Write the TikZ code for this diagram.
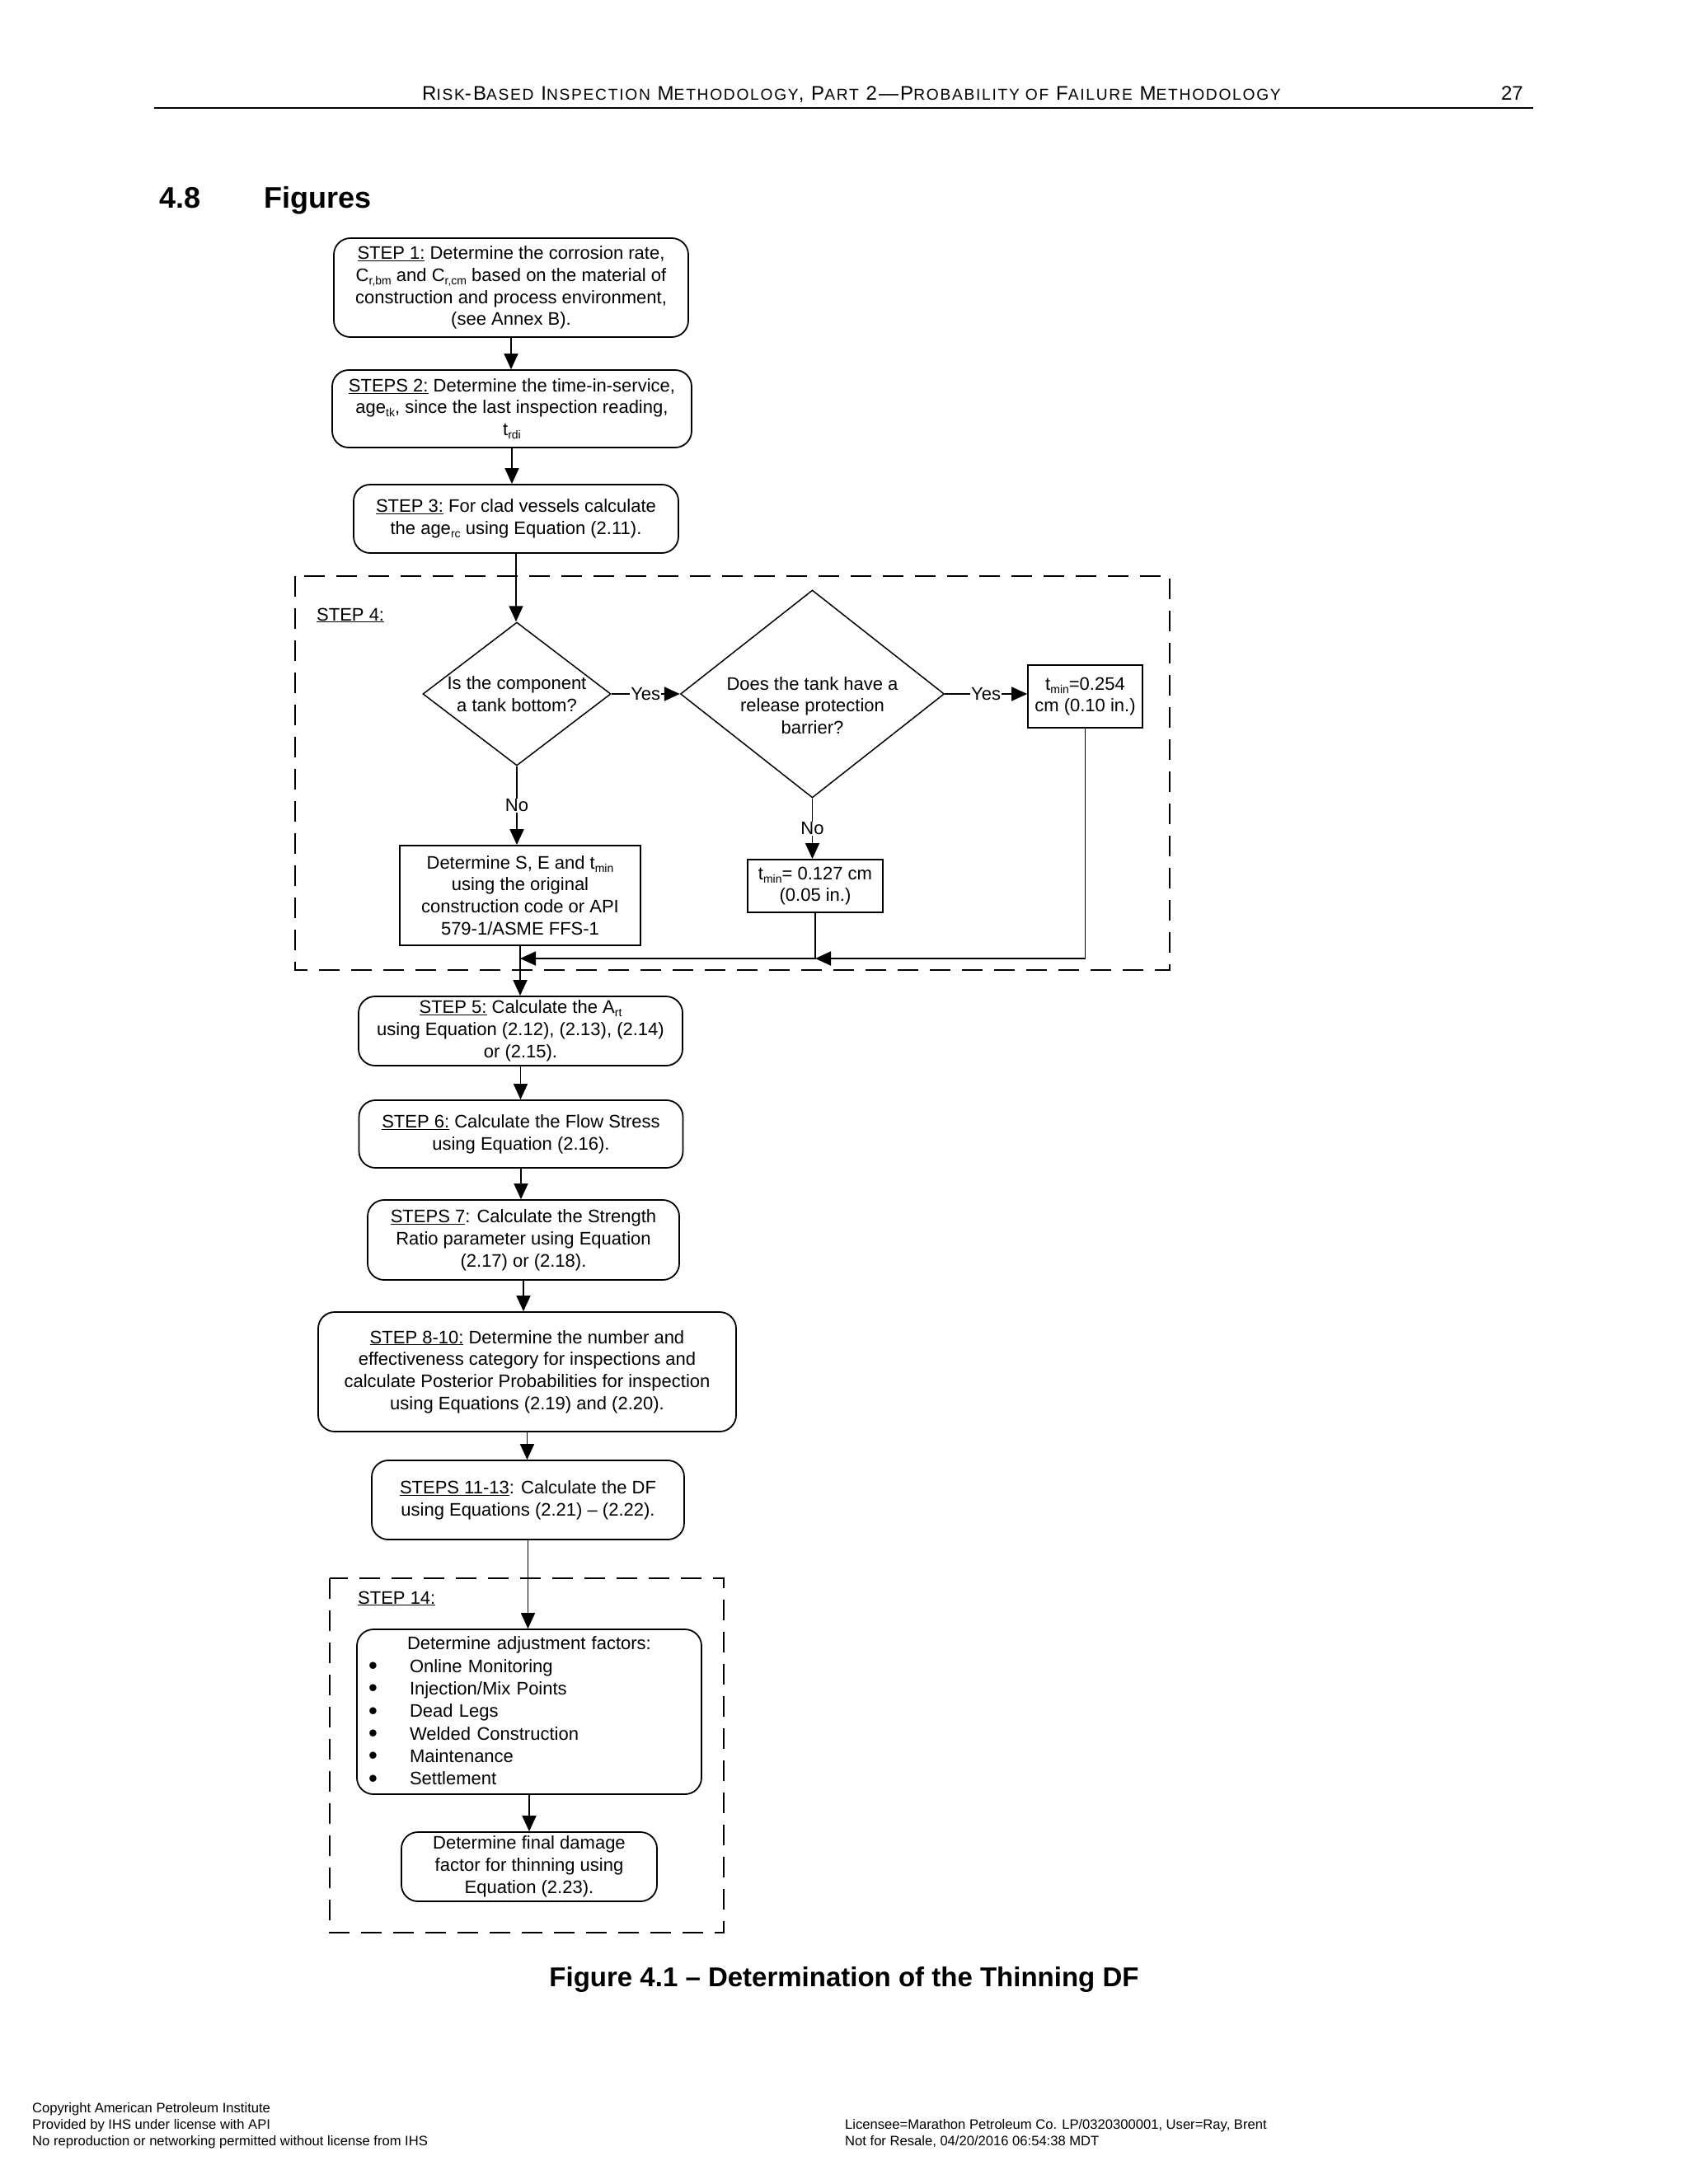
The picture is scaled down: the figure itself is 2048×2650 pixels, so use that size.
\documentclass[tikz,border=0pt]{standalone}
\usepackage{fontspec}
\setmainfont{Liberation Sans}
\newfontfamily\hdrfont[LetterSpace=9]{Liberation Sans}
\usetikzlibrary{shapes.geometric,arrows.meta}
\newcommand\sbs[1]{\raisebox{-4pt}{\fontsize{14}{14}\selectfont #1}}
\newcommand\HB[1]{{\fontsize{24}{24}\selectfont #1}}
\newcommand\HS[1]{{\fontsize{19.2}{24}\selectfont #1}}
\newcommand\blt{\makebox[50pt][l]{\raisebox{-2.5pt}{\fontsize{31}{27}\selectfont\textbullet}}}
\tikzset{
  base/.style={font=\fontsize{22}{26.8}\selectfont, align=center, inner sep=2pt},
  rbox/.style={base, draw, line width=1.8pt, rounded corners=20pt},
  sbox/.style={base, draw, line width=1.8pt},
  ln/.style={line width=1.8pt},
  arr/.style={ln, -{Triangle[length=19pt,width=17pt]}},
  dbox/.style={line width=1.8pt, dash pattern=on 25pt off 14pt},
  lab/.style={base, fill=white, inner sep=1pt},
  dia/.style={diamond, draw, line width=1.5pt, inner sep=0pt},
  txt/.style={anchor=base west, inner sep=0pt},
  foot/.style={txt, font=\fontsize{16.6}{16.6}\selectfont},
}
\begin{document}
\begin{tikzpicture}[x=1pt,y=-1pt]
\useasboundingbox (0,0) rectangle (2048,2650);
% header
\node[txt, font=\hdrfont\fontsize{24}{24}\selectfont] (hdr) at (512,121) {\HB{R}\HS{ISK}\HB{-B}\HS{ASED} \HB{I}\HS{NSPECTION} \HB{M}\HS{ETHODOLOGY}\HB{, P}\HS{ART} \HB{2—P}\HS{ROBABILITY OF} \HB{F}\HS{AILURE} \HB{M}\HS{ETHODOLOGY}};
\node[anchor=base east, inner sep=0pt, font=\fontsize{24}{24}\selectfont] (pg) at (1848,121) {27};
\draw[line width=1.8pt] (187,131) -- (1860,131);
\node[txt, font=\fontsize{36}{36}\selectfont\bfseries] (sec) at (193,252) {4.8};
\node[txt, font=\fontsize{36}{36}\selectfont\bfseries] (sectitle) at (320,252) {Figures};

% steps 1-3
\node[rbox, minimum width=430pt, minimum height=120pt] (s1) at (620,349)
  {\underline{STEP 1:} Determine the corrosion rate,\\ C\sbs{r,bm} and C\sbs{r,cm} based on the material of\\ construction and process environment,\\ (see Annex B).};
\node[rbox, minimum width=436pt, minimum height=94pt] (s2) at (621,496)
  {\underline{STEPS 2:} Determine the time-in-service,\\ age\sbs{tk}, since the last inspection reading,\\ t\sbs{rdi}};
\node[rbox, minimum width=394pt, minimum height=83pt] (s3) at (626,629.5)
  {\underline{STEP 3:} For clad vessels calculate\\ the age\sbs{rc} using Equation (2.11).};

% step 4
\draw[dbox] (358,699) rectangle (1419,1177);
\node[txt, font=\fontsize{22}{26.8}\selectfont] (st4) at (384,753) {\underline{STEP 4:}};
\node[dia, minimum width=228pt, minimum height=174pt,
  label={[base]center:{Is the component\\ a tank bottom?}}] (d1) at (627,842) {};
\node[dia, minimum width=320pt, minimum height=252pt,
  label={[base, yshift=-14pt]center:{Does the tank have a\\ release protection\\ barrier?}}] (d2) at (985.5,842) {};
\node[sbox, minimum width=139pt, minimum height=76pt] (bA) at (1316.5,845)
  {t\sbs{min}=0.254\\ cm (0.10 in.)};
\node[sbox, minimum width=164pt, minimum height=64pt] (bB) at (989,1075)
  {t\sbs{min}= 0.127 cm\\ (0.05 in.)};
\node[sbox, minimum width=292pt, minimum height=121pt] (bC) at (631,1086.5)
  {Determine S, E and t\sbs{min}\\ using the original\\ construction code or API\\ 579-1/ASME FFS-1};
\coordinate (jB) at (bB.south |- 0,1163);
\coordinate (jM) at (bC.south |- 0,1163);

% steps 5-13
\node[rbox, minimum width=393pt, minimum height=84pt] (s5) at (631.5,1251)
  {\underline{STEP 5:} Calculate the A\sbs{rt}\\ using Equation (2.12), (2.13), (2.14)\\ or (2.15).};
\node[rbox, minimum width=393pt, minimum height=82pt] (s6) at (632,1376)
  {\underline{STEP 6:} Calculate the Flow Stress\\ using Equation (2.16).};
\node[rbox, minimum width=378pt, minimum height=97pt] (s7) at (635,1504.5)
  {\underline{STEPS 7}: Calculate the Strength\\ Ratio parameter using Equation\\ (2.17) or (2.18).};
\node[rbox, minimum width=507pt, minimum height=145pt] (s8) at (639.5,1664.5)
  {\underline{STEP 8-10:} Determine the number and\\ effectiveness category for inspections and\\ calculate Posterior Probabilities for inspection\\ using Equations (2.19) and (2.20).};
\node[rbox, minimum width=379pt, minimum height=96pt] (s11) at (640.5,1820)
  {\underline{STEPS 11-13}: Calculate the DF\\ using Equations (2.21) – (2.22).};

% step 14
\draw[dbox] (400,1915) rectangle (878,2345);
\node[txt, font=\fontsize{22}{26.8}\selectfont] (st14) at (434,1946) {\underline{STEP 14:}};
\node[rbox, minimum width=418pt, minimum height=200pt, text width=390pt, align=left,
  font=\fontsize{22}{27.3}\selectfont] (adj) at (642,2077)
  {\hspace*{47pt}Determine adjustment factors:\\
   \blt Online Monitoring\\
   \blt Injection/Mix Points\\
   \blt Dead Legs\\
   \blt Welded Construction\\
   \blt Maintenance\\
   \blt Settlement};
\node[rbox, minimum width=310pt, minimum height=84pt] (fin) at (642,2265)
  {Determine final damage\\ factor for thinning using\\ Equation (2.23).};

% connectors
\draw[arr] (s1.south) -- (s1.south |- s2.north);
\draw[arr] (s2.south) -- (s2.south |- s3.north);
\draw[arr] (s3.south) -- (s3.south |- d1.north);
\draw[arr] (d1.east) -- node[lab] (yes1) {Yes} (d2.west);
\draw[arr] (d2.east) -- node[lab] (yes2) {Yes} (bA.west |- d2.east);
\draw[arr] (d1.south) -- node[lab] (no1) {No} (d1.south |- bC.north);
\draw[arr] (d2.south) -- node[lab] (no2) {No} (d2.south |- bB.north);
\draw[arr] (bA.south) |- (jB);
\draw[arr] (bB.south) |- (jM);
\draw[arr] (bC.south) -- (bC.south |- s5.north);
\draw[arr] (s5.south) -- (s5.south |- s6.north);
\draw[arr] (s6.south) -- (s6.south |- s7.north);
\draw[arr] (s7.south) -- (s7.south |- s8.north);
\draw[arr] (s8.south) -- (s8.south |- s11.north);
\draw[arr] (s11.south) -- (s11.south |- adj.north);
\draw[arr] (adj.south) -- (adj.south |- fin.north);

% caption
\node[anchor=base, inner sep=0pt, font=\fontsize{33}{33}\selectfont\bfseries] (cap) at (1024,2410)
  {Figure 4.1 – Determination of the Thinning DF};

% footer
\node[foot] (f1) at (39,2563) {Copyright American Petroleum Institute};
\node[foot] (f2) at (39,2583) {Provided by IHS under license with API};
\node[foot] (f3) at (39,2603) {No reproduction or networking permitted without license from IHS};
\node[foot] (f4) at (1025,2583) {Licensee=Marathon Petroleum Co. LP/0320300001, User=Ray, Brent};
\node[foot] (f5) at (1025,2603) {Not for Resale, 04/20/2016 06:54:38 MDT};
\end{tikzpicture}
\end{document}
